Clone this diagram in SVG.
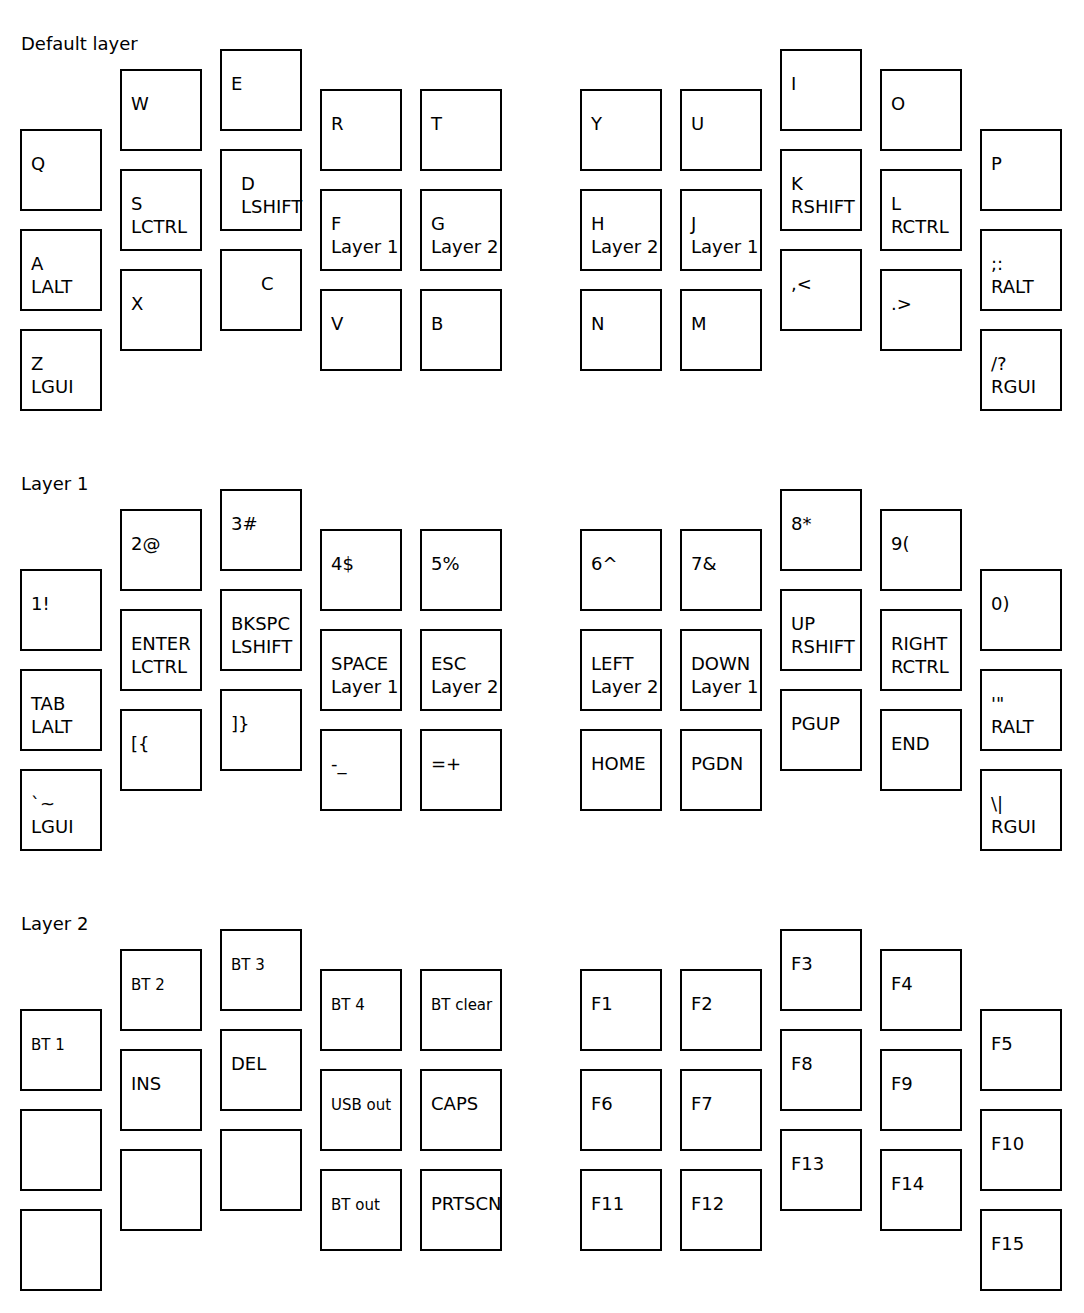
<svg xmlns="http://www.w3.org/2000/svg" width="1084" height="1313" viewBox="0 0 1084 1313">
<style>
.k rect{fill:#fff;stroke:#000;stroke-width:2}
text{font-family:"DejaVu Sans","Liberation Sans",sans-serif;font-size:18px;fill:#000}
text.s{font-size:15px}
</style>
<rect x="0" y="0" width="1084" height="1313" fill="#fff"/>
<g id="titles">
<text x="21" y="50">Default layer</text>
<text x="21" y="490">Layer 1</text>
<text x="21" y="930">Layer 2</text>
</g>
<g id="connectors"></g>
<!-- Default layer -->
<g id="k-q" class="k"><rect x="21" y="130" width="80" height="80"/><text x="31" y="170">Q</text></g>
<g id="k-a" class="k"><rect x="21" y="230" width="80" height="80"/><text x="31" y="270">A<tspan x="31" dy="23">LALT</tspan></text></g>
<g id="k-z" class="k"><rect x="21" y="330" width="80" height="80"/><text x="31" y="370">Z<tspan x="31" dy="23">LGUI</tspan></text></g>
<g id="k-w" class="k"><rect x="121" y="70" width="80" height="80"/><text x="131" y="110">W</text></g>
<g id="k-s" class="k"><rect x="121" y="170" width="80" height="80"/><text x="131" y="210">S<tspan x="131" dy="23">LCTRL</tspan></text></g>
<g id="k-x" class="k"><rect x="121" y="270" width="80" height="80"/><text x="131" y="310">X</text></g>
<g id="k-e" class="k"><rect x="221" y="50" width="80" height="80"/><text x="231" y="90">E</text></g>
<g id="k-d" class="k"><rect x="221" y="150" width="80" height="80"/><text x="241" y="190">D<tspan x="241" dy="23">LSHIFT</tspan></text></g>
<g id="k-c" class="k"><rect x="221" y="250" width="80" height="80"/><text x="261" y="290">C</text></g>
<g id="k-r" class="k"><rect x="321" y="90" width="80" height="80"/><text x="331" y="130">R</text></g>
<g id="k-f" class="k"><rect x="321" y="190" width="80" height="80"/><text x="331" y="230">F<tspan x="331" dy="23">Layer 1</tspan></text></g>
<g id="k-v" class="k"><rect x="321" y="290" width="80" height="80"/><text x="331" y="330">V</text></g>
<g id="k-t" class="k"><rect x="421" y="90" width="80" height="80"/><text x="431" y="130">T</text></g>
<g id="k-g" class="k"><rect x="421" y="190" width="80" height="80"/><text x="431" y="230">G<tspan x="431" dy="23">Layer 2</tspan></text></g>
<g id="k-b" class="k"><rect x="421" y="290" width="80" height="80"/><text x="431" y="330">B</text></g>
<g id="k-y" class="k"><rect x="581" y="90" width="80" height="80"/><text x="591" y="130">Y</text></g>
<g id="k-h" class="k"><rect x="581" y="190" width="80" height="80"/><text x="591" y="230">H<tspan x="591" dy="23">Layer 2</tspan></text></g>
<g id="k-n" class="k"><rect x="581" y="290" width="80" height="80"/><text x="591" y="330">N</text></g>
<g id="k-u" class="k"><rect x="681" y="90" width="80" height="80"/><text x="691" y="130">U</text></g>
<g id="k-j" class="k"><rect x="681" y="190" width="80" height="80"/><text x="691" y="230">J<tspan x="691" dy="23">Layer 1</tspan></text></g>
<g id="k-m" class="k"><rect x="681" y="290" width="80" height="80"/><text x="691" y="330">M</text></g>
<g id="k-i" class="k"><rect x="781" y="50" width="80" height="80"/><text x="791" y="90">I</text></g>
<g id="k-k" class="k"><rect x="781" y="150" width="80" height="80"/><text x="791" y="190">K<tspan x="791" dy="23">RSHIFT</tspan></text></g>
<g id="k-comma" class="k"><rect x="781" y="250" width="80" height="80"/><text x="791" y="290">,&lt;</text></g>
<g id="k-o" class="k"><rect x="881" y="70" width="80" height="80"/><text x="891" y="110">O</text></g>
<g id="k-l" class="k"><rect x="881" y="170" width="80" height="80"/><text x="891" y="210">L<tspan x="891" dy="23">RCTRL</tspan></text></g>
<g id="k-dot" class="k"><rect x="881" y="270" width="80" height="80"/><text x="891" y="310">.&gt;</text></g>
<g id="k-p" class="k"><rect x="981" y="130" width="80" height="80"/><text x="991" y="170">P</text></g>
<g id="k-semi" class="k"><rect x="981" y="230" width="80" height="80"/><text x="991" y="270">;:<tspan x="991" dy="23">RALT</tspan></text></g>
<g id="k-slash" class="k"><rect x="981" y="330" width="80" height="80"/><text x="991" y="370">/?<tspan x="991" dy="23">RGUI</tspan></text></g>
<!-- Layer 1 -->
<g id="l1-1" class="k"><rect x="21" y="570" width="80" height="80"/><text x="31" y="610">1!</text></g>
<g id="l1-tab" class="k"><rect x="21" y="670" width="80" height="80"/><text x="31" y="710">TAB<tspan x="31" dy="23">LALT</tspan></text></g>
<g id="l1-grave" class="k"><rect x="21" y="770" width="80" height="80"/><text x="31" y="810">`~<tspan x="31" dy="23">LGUI</tspan></text></g>
<g id="l1-2" class="k"><rect x="121" y="510" width="80" height="80"/><text x="131" y="550">2@</text></g>
<g id="l1-enter" class="k"><rect x="121" y="610" width="80" height="80"/><text x="131" y="650">ENTER<tspan x="131" dy="23">LCTRL</tspan></text></g>
<g id="l1-lbr" class="k"><rect x="121" y="710" width="80" height="80"/><text x="131" y="750">[{</text></g>
<g id="l1-3" class="k"><rect x="221" y="490" width="80" height="80"/><text x="231" y="530">3#</text></g>
<g id="l1-bksp" class="k"><rect x="221" y="590" width="80" height="80"/><text x="231" y="630">BKSPC<tspan x="231" dy="23">LSHIFT</tspan></text></g>
<g id="l1-rbr" class="k"><rect x="221" y="690" width="80" height="80"/><text x="231" y="730">]}</text></g>
<g id="l1-4" class="k"><rect x="321" y="530" width="80" height="80"/><text x="331" y="570">4$</text></g>
<g id="l1-space" class="k"><rect x="321" y="630" width="80" height="80"/><text x="331" y="670">SPACE<tspan x="331" dy="23">Layer 1</tspan></text></g>
<g id="l1-minus" class="k"><rect x="321" y="730" width="80" height="80"/><text x="331" y="770">-_</text></g>
<g id="l1-5" class="k"><rect x="421" y="530" width="80" height="80"/><text x="431" y="570">5%</text></g>
<g id="l1-esc" class="k"><rect x="421" y="630" width="80" height="80"/><text x="431" y="670">ESC<tspan x="431" dy="23">Layer 2</tspan></text></g>
<g id="l1-eq" class="k"><rect x="421" y="730" width="80" height="80"/><text x="431" y="770">=+</text></g>
<g id="l1-6" class="k"><rect x="581" y="530" width="80" height="80"/><text x="591" y="570">6^</text></g>
<g id="l1-left" class="k"><rect x="581" y="630" width="80" height="80"/><text x="591" y="670">LEFT<tspan x="591" dy="23">Layer 2</tspan></text></g>
<g id="l1-home" class="k"><rect x="581" y="730" width="80" height="80"/><text x="591" y="770">HOME</text></g>
<g id="l1-7" class="k"><rect x="681" y="530" width="80" height="80"/><text x="691" y="570">7&amp;</text></g>
<g id="l1-down" class="k"><rect x="681" y="630" width="80" height="80"/><text x="691" y="670">DOWN<tspan x="691" dy="23">Layer 1</tspan></text></g>
<g id="l1-pgdn" class="k"><rect x="681" y="730" width="80" height="80"/><text x="691" y="770">PGDN</text></g>
<g id="l1-8" class="k"><rect x="781" y="490" width="80" height="80"/><text x="791" y="530">8*</text></g>
<g id="l1-up" class="k"><rect x="781" y="590" width="80" height="80"/><text x="791" y="630">UP<tspan x="791" dy="23">RSHIFT</tspan></text></g>
<g id="l1-pgup" class="k"><rect x="781" y="690" width="80" height="80"/><text x="791" y="730">PGUP</text></g>
<g id="l1-9" class="k"><rect x="881" y="510" width="80" height="80"/><text x="891" y="550">9(</text></g>
<g id="l1-right" class="k"><rect x="881" y="610" width="80" height="80"/><text x="891" y="650">RIGHT<tspan x="891" dy="23">RCTRL</tspan></text></g>
<g id="l1-end" class="k"><rect x="881" y="710" width="80" height="80"/><text x="891" y="750">END</text></g>
<g id="l1-0" class="k"><rect x="981" y="570" width="80" height="80"/><text x="991" y="610">0)</text></g>
<g id="l1-quote" class="k"><rect x="981" y="670" width="80" height="80"/><text x="991" y="710">'"<tspan x="991" dy="23">RALT</tspan></text></g>
<g id="l1-bslash" class="k"><rect x="981" y="770" width="80" height="80"/><text x="991" y="810">\|<tspan x="991" dy="23">RGUI</tspan></text></g>
<!-- Layer 2 -->
<g id="l2-bt1" class="k"><rect x="21" y="1010" width="80" height="80"/><text class="s" x="31" y="1050">BT 1</text></g>
<g id="l2-c0r1" class="k"><rect x="21" y="1110" width="80" height="80"/></g>
<g id="l2-c0r2" class="k"><rect x="21" y="1210" width="80" height="80"/></g>
<g id="l2-bt2" class="k"><rect x="121" y="950" width="80" height="80"/><text class="s" x="131" y="990">BT 2</text></g>
<g id="l2-ins" class="k"><rect x="121" y="1050" width="80" height="80"/><text x="131" y="1090">INS</text></g>
<g id="l2-c1r2" class="k"><rect x="121" y="1150" width="80" height="80"/></g>
<g id="l2-bt3" class="k"><rect x="221" y="930" width="80" height="80"/><text class="s" x="231" y="970">BT 3</text></g>
<g id="l2-del" class="k"><rect x="221" y="1030" width="80" height="80"/><text x="231" y="1070">DEL</text></g>
<g id="l2-c2r2" class="k"><rect x="221" y="1130" width="80" height="80"/></g>
<g id="l2-bt4" class="k"><rect x="321" y="970" width="80" height="80"/><text class="s" x="331" y="1010">BT 4</text></g>
<g id="l2-usb" class="k"><rect x="321" y="1070" width="80" height="80"/><text class="s" x="331" y="1110">USB out</text></g>
<g id="l2-btout" class="k"><rect x="321" y="1170" width="80" height="80"/><text class="s" x="331" y="1210">BT out</text></g>
<g id="l2-btclear" class="k"><rect x="421" y="970" width="80" height="80"/><text class="s" x="431" y="1010">BT clear</text></g>
<g id="l2-caps" class="k"><rect x="421" y="1070" width="80" height="80"/><text x="431" y="1110">CAPS</text></g>
<g id="l2-prtscn" class="k"><rect x="421" y="1170" width="80" height="80"/><text x="431" y="1210">PRTSCN</text></g>
<g id="l2-f1" class="k"><rect x="581" y="970" width="80" height="80"/><text x="591" y="1010">F1</text></g>
<g id="l2-f6" class="k"><rect x="581" y="1070" width="80" height="80"/><text x="591" y="1110">F6</text></g>
<g id="l2-f11" class="k"><rect x="581" y="1170" width="80" height="80"/><text x="591" y="1210">F11</text></g>
<g id="l2-f2" class="k"><rect x="681" y="970" width="80" height="80"/><text x="691" y="1010">F2</text></g>
<g id="l2-f7" class="k"><rect x="681" y="1070" width="80" height="80"/><text x="691" y="1110">F7</text></g>
<g id="l2-f12" class="k"><rect x="681" y="1170" width="80" height="80"/><text x="691" y="1210">F12</text></g>
<g id="l2-f3" class="k"><rect x="781" y="930" width="80" height="80"/><text x="791" y="970">F3</text></g>
<g id="l2-f8" class="k"><rect x="781" y="1030" width="80" height="80"/><text x="791" y="1070">F8</text></g>
<g id="l2-f13" class="k"><rect x="781" y="1130" width="80" height="80"/><text x="791" y="1170">F13</text></g>
<g id="l2-f4" class="k"><rect x="881" y="950" width="80" height="80"/><text x="891" y="990">F4</text></g>
<g id="l2-f9" class="k"><rect x="881" y="1050" width="80" height="80"/><text x="891" y="1090">F9</text></g>
<g id="l2-f14" class="k"><rect x="881" y="1150" width="80" height="80"/><text x="891" y="1190">F14</text></g>
<g id="l2-f5" class="k"><rect x="981" y="1010" width="80" height="80"/><text x="991" y="1050">F5</text></g>
<g id="l2-f10" class="k"><rect x="981" y="1110" width="80" height="80"/><text x="991" y="1150">F10</text></g>
<g id="l2-f15" class="k"><rect x="981" y="1210" width="80" height="80"/><text x="991" y="1250">F15</text></g>
</svg>
